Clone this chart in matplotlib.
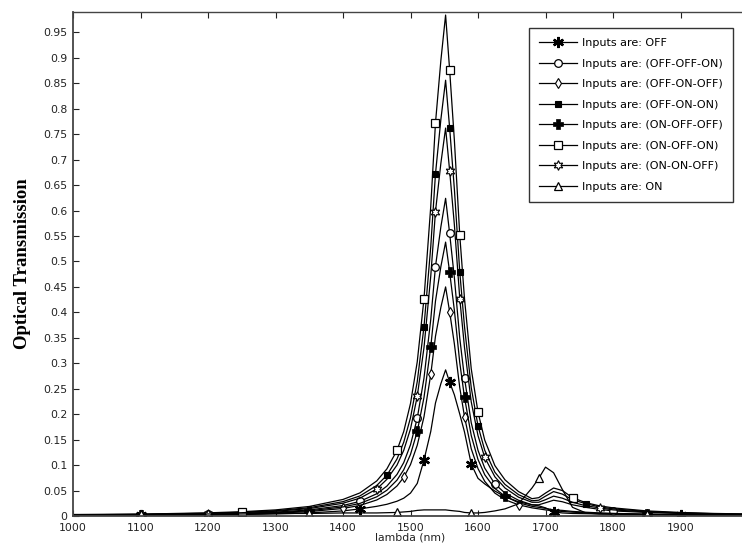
import matplotlib.pyplot as plt

# wavelength grid (nm)
lam = [1000, 1100, 1200, 1250, 1300, 1350, 1400, 1425, 1450, 1465, 1480, 1490,
       1500, 1510, 1520, 1530, 1537, 1545, 1552, 1558, 1565, 1573, 1580, 1590,
       1600, 1610, 1625, 1640, 1660, 1680, 1690, 1700, 1712, 1725, 1740, 1760,
       1780, 1800, 1850, 1900, 1950, 2000]

off = [0.001, 0.0015, 0.002, 0.003, 0.004, 0.006, 0.010, 0.014, 0.019, 0.023, 0.029, 0.035,
       0.045, 0.064, 0.110, 0.166, 0.222, 0.260, 0.287, 0.263, 0.238, 0.200, 0.165, 0.102,
       0.074, 0.063, 0.049, 0.038, 0.028, 0.022, 0.020, 0.016, 0.008, 0.006, 0.005, 0.0045,
       0.004, 0.0035, 0.003, 0.002, 0.0015, 0.001]

off_off_on = [0.0016, 0.0024, 0.0039, 0.0053, 0.0076, 0.0119, 0.0206, 0.0287, 0.0437, 0.0587, 0.0817, 0.105,
              0.140, 0.192, 0.271, 0.386, 0.490, 0.568, 0.624, 0.555, 0.468, 0.349, 0.271, 0.183,
              0.129, 0.094, 0.063, 0.045, 0.031, 0.022, 0.022, 0.026, 0.031, 0.028, 0.022, 0.017,
              0.013, 0.010, 0.007, 0.005, 0.0035, 0.0028]

off_on_off = [0.0012, 0.0017, 0.0028, 0.0038, 0.0055, 0.0086, 0.0149, 0.0207, 0.0315, 0.0423, 0.059, 0.076,
              0.101, 0.139, 0.195, 0.278, 0.353, 0.410, 0.450, 0.401, 0.338, 0.252, 0.195, 0.132,
              0.093, 0.068, 0.045, 0.032, 0.022, 0.016, 0.014, 0.012, 0.010, 0.009, 0.0075, 0.0062,
              0.0051, 0.0044, 0.003, 0.0022, 0.0017, 0.0014]

off_on_on = [0.0022, 0.0033, 0.0054, 0.0073, 0.0104, 0.0163, 0.0282, 0.0394, 0.060, 0.080, 0.112, 0.145,
             0.193, 0.264, 0.372, 0.529, 0.672, 0.779, 0.856, 0.762, 0.642, 0.479, 0.372, 0.252,
             0.177, 0.129, 0.086, 0.062, 0.042, 0.030, 0.031, 0.039, 0.048, 0.043, 0.032, 0.024,
             0.018, 0.014, 0.009, 0.006, 0.0045, 0.0035]

on_off_off = [0.0014, 0.002, 0.0034, 0.0046, 0.0066, 0.0102, 0.0178, 0.0247, 0.0377, 0.0506, 0.0705, 0.0909,
              0.121, 0.166, 0.233, 0.332, 0.422, 0.490, 0.538, 0.479, 0.404, 0.301, 0.233, 0.158,
              0.111, 0.081, 0.054, 0.039, 0.026, 0.019, 0.017, 0.015, 0.012, 0.011, 0.009, 0.0074,
              0.0061, 0.0052, 0.0036, 0.0026, 0.002, 0.0016]

on_off_on = [0.0026, 0.0037, 0.0062, 0.0084, 0.012, 0.0187, 0.0325, 0.0453, 0.0689, 0.0925, 0.129, 0.166,
             0.221, 0.303, 0.427, 0.608, 0.772, 0.895, 0.984, 0.876, 0.738, 0.551, 0.427, 0.289,
             0.204, 0.149, 0.099, 0.071, 0.048, 0.034, 0.036, 0.045, 0.055, 0.050, 0.036, 0.026,
             0.020, 0.016, 0.010, 0.007, 0.005, 0.004]

on_on_off = [0.002, 0.0029, 0.0048, 0.0065, 0.0093, 0.0145, 0.0251, 0.035, 0.053, 0.072, 0.100, 0.129,
             0.171, 0.235, 0.331, 0.471, 0.598, 0.693, 0.762, 0.678, 0.572, 0.427, 0.331, 0.224,
             0.158, 0.115, 0.077, 0.055, 0.037, 0.027, 0.027, 0.032, 0.039, 0.035, 0.027, 0.020,
             0.016, 0.012, 0.008, 0.0055, 0.004, 0.003]

on = [0.003, 0.003, 0.004, 0.004, 0.005, 0.005, 0.006, 0.006, 0.006, 0.0065, 0.007, 0.008,
      0.009, 0.011, 0.012, 0.012, 0.012, 0.012, 0.012, 0.011, 0.010, 0.009, 0.007, 0.006,
      0.006, 0.007, 0.010, 0.014, 0.024, 0.055, 0.074, 0.096, 0.085, 0.052, 0.017, 0.006,
      0.004, 0.004, 0.003, 0.003, 0.002, 0.002]

# wavelengths where the markers sit on each curve
marks_off = [1100, 1425, 1520, 1558, 1590, 1712, 1900]
marks_off_off_on = [1200, 1425, 1510, 1537, 1558, 1580, 1625, 1800]
marks_off_on_off = [1200, 1400, 1490, 1530, 1558, 1580, 1660, 1850]
marks_off_on_on = [1250, 1465, 1520, 1537, 1558, 1573, 1600, 1760]
marks_on_off_off = [1100, 1350, 1510, 1530, 1558, 1580, 1640, 1850]
marks_on_off_on = [1250, 1480, 1520, 1537, 1558, 1573, 1600, 1740]
marks_on_on_off = [1200, 1450, 1510, 1537, 1558, 1573, 1610, 1780]
marks_on = [1100, 1350, 1480, 1590, 1690, 1850]

series = [
    ("Inputs are: OFF", off, marks_off, dict(marker=(6, 2, 0), ms=8, mew=1.7, mfc='black')),
    ("Inputs are: (OFF-OFF-ON)", off_off_on, marks_off_off_on, dict(marker='o', ms=5.5, mew=0.9, mfc='white')),
    ("Inputs are: (OFF-ON-OFF)", off_on_off, marks_off_on_off, dict(marker='d', ms=5.5, mew=0.8, mfc='white')),
    ("Inputs are: (OFF-ON-ON)", off_on_on, marks_off_on_on, dict(marker='s', ms=4, mew=0.8, mfc='black')),
    ("Inputs are: (ON-OFF-OFF)", on_off_off, marks_on_off_off, dict(marker='P', ms=6.5, mew=0.5, mfc='black')),
    ("Inputs are: (ON-OFF-ON)", on_off_on, marks_on_off_on, dict(marker='s', ms=6, mew=0.9, mfc='white')),
    ("Inputs are: (ON-ON-OFF)", on_on_off, marks_on_on_off, dict(marker=(6, 1, 0), ms=7, mew=0.8, mfc='white')),
    ("Inputs are: ON", on, marks_on, dict(marker='^', ms=6, mew=0.9, mfc='white')),
]

fig = plt.figure(figsize=(7.42, 5.48), dpi=100)
ax = fig.add_axes([73 / 742, 32 / 548, 675 / 742, 504 / 548])

for label, y, marks, style in series:
    ax.plot(lam, y, color='black', linewidth=0.9, mec='black', label=label,
            markevery=[lam.index(w) for w in marks], **style)

ax.set_xlim(1000, 2000)
ax.set_ylim(0, 0.99)
ax.set_xticks(range(1000, 2000, 100))
yt = [i * 0.05 for i in range(20)]
ax.set_yticks(yt)
ax.set_yticklabels(['0'] + ['%g' % round(v, 2) for v in yt[1:]])

ax.tick_params(direction='in', length=4, width=0.8, labelsize=7.8, colors='#222222',
               top=True, right=False)
ax.tick_params(axis='x', pad=5)
ax.tick_params(axis='y', pad=4)
ax.spines['right'].set_visible(False)
for s in ['left', 'bottom', 'top']:
    ax.spines[s].set_color('#444444')
ax.spines['left'].set_linewidth(1.3)
ax.spines['bottom'].set_linewidth(1.3)
ax.spines['top'].set_linewidth(1.0)

ax.set_xlabel('lambda (nm)', fontsize=7.8, color='#222222', labelpad=0)
ax.set_ylabel('Optical Transmission', fontsize=13.5, fontweight='bold',
              family='Liberation Serif', labelpad=9)

leg = ax.legend(loc='upper right', bbox_to_anchor=(733 / 742, 520 / 548),
                bbox_transform=fig.transFigure, borderaxespad=0, fontsize=8,
                handlelength=3.4, labelspacing=0.95, fancybox=False,
                framealpha=1, edgecolor='#333333', borderpad=0.9, handletextpad=0.5)
leg.get_frame().set_linewidth(1.0)

fig.savefig('out.png', dpi=100)
